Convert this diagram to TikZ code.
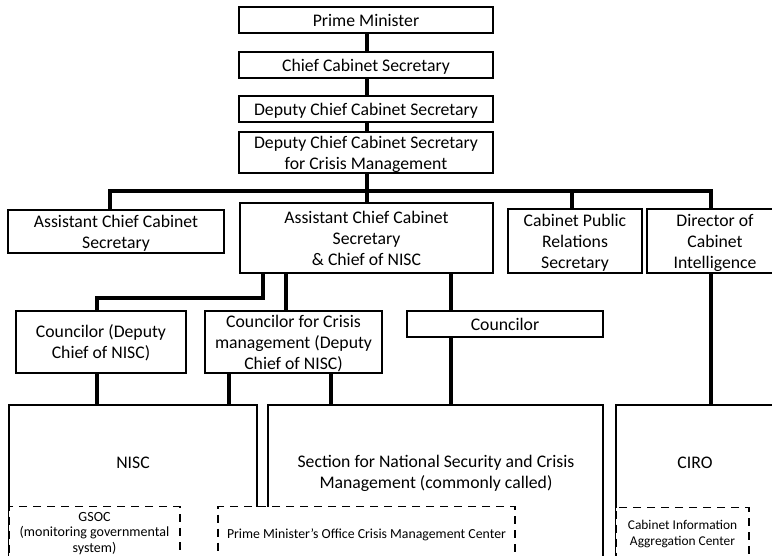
\documentclass[tikz,border=0pt]{standalone}
\usepackage{fontspec}
\setmainfont{Carlito}
\begin{document}
\begin{tikzpicture}[x=1pt,y=-1pt,
  box/.style={draw, line width=1.5pt, fill=white, inner sep=0pt, align=center,
    text depth=-1.5pt, font=\fontsize{17.7}{21}\selectfont},
  dbox/.style={draw, dash pattern=on 8pt off 6pt, line width=1.8pt, fill=white,
    inner sep=0pt, align=center, font=\fontsize{13.8}{15.5}\selectfont},
  lbl/.style={inner sep=0pt, align=center, font=\fontsize{17.7}{21}\selectfont},
  conn/.style={line width=4pt}]
\useasboundingbox (0,0) rectangle (772,555);
\clip (0,0) rectangle (772,555);

% top chain
\node[box, minimum width=254pt, minimum height=26pt] (pm) at (366,20) {Prime Minister};
\node[box, minimum width=254pt, minimum height=26pt] (ccs) at (366,65) {Chief Cabinet Secretary};
\node[box, minimum width=254pt, minimum height=26pt] (dccs) at (366,109) {Deputy Chief Cabinet Secretary};
\node[box, minimum width=254pt, minimum height=41pt] (dccm) at (366,152.5) {Deputy Chief Cabinet Secretary\\for Crisis Management};

% second row
\node[box, minimum width=216pt, minimum height=43pt] (acc) at (116,231.5) {Assistant Chief Cabinet\\Secretary};
\node[box, minimum width=253pt, minimum height=70pt] (acn) at (366.5,238) {Assistant Chief Cabinet\\Secretary\\\& Chief of NISC};
\node[box, minimum width=134pt, minimum height=64pt] (cprs) at (575,241) {Cabinet Public\\Relations\\Secretary};
\node[box, minimum width=136pt, minimum height=64pt] (dci) at (715,241) {Director of\\Cabinet\\Intelligence};

% third row
\node[box, minimum width=170pt, minimum height=62pt] (cdn) at (101,342) {Councilor (Deputy\\Chief of NISC)};
\node[box, minimum width=177pt, minimum height=62pt] (ccm) at (293.5,342) {Councilor for Crisis\\management (Deputy\\Chief of NISC)};
\node[box, minimum width=196pt, minimum height=26pt] (cou) at (505,324) {Councilor};

% bottom organisations
\node[box, minimum width=248pt, minimum height=170pt] (nisc) at (133,490) {};
\node[box, minimum width=335pt, minimum height=170pt] (sec) at (435.5,490) {};
\node[box, minimum width=160pt, minimum height=170pt] (ciro) at (696,490) {};
\node[lbl] (nisct) at (133,463) {NISC};
\node[lbl] (sect) at (436,473) {Section for National Security and Crisis\\Management (commonly called)};
\node[lbl] (cirot) at (695,463) {CIRO};

% dashed centres
\node[dbox, minimum width=171pt, minimum height=54pt, font=\fontsize{14}{15.5}\selectfont] (gsoc) at (94.5,533.5) {GSOC\\(monitoring governmental\\system)};
\node[dbox, minimum width=297pt, minimum height=56pt] (pmo) at (366.5,534.5) {Prime Minister’s Office Crisis Management Center};
\node[dbox, minimum width=133pt, minimum height=53pt, font=\fontsize{13.4}{15.5}\selectfont] (cia) at (682.5,534) {Cabinet Information\\Aggregation Center};

% connectors
\coordinate (barL) at (110,191);
\coordinate (barM) at (367,191);
\coordinate (barC) at (572,191);
\coordinate (barR) at (711,191);
\draw[conn] (pm.south -| barM) -- (ccs.north -| barM);
\draw[conn] (ccs.south -| barM) -- (dccs.north -| barM);
\draw[conn] (dccs.south -| barM) -- (dccm.north -| barM);
\draw[conn] (dccm.south -| barM) -- (acn.north -| barM);
\draw[conn] (barL |- acc.north) -- (barL) -- (barR) -- (barR |- dci.north);
\draw[conn] (barC) -- (barC |- cprs.north);

\coordinate (k1) at (263,298);
\draw[conn] (acn.south -| k1) -- (k1) -| ([xshift=82pt]cdn.north west);
\draw[conn] ([xshift=82pt]cdn.south west) -- ([xshift=82pt]cdn.south west |- nisc.north);
\draw[conn] ([xshift=82pt]ccm.north west |- acn.south) -- ([xshift=82pt]ccm.north west);
\draw[conn] ([xshift=25pt]ccm.south west) -- ([xshift=25pt]ccm.south west |- nisc.north);
\draw[conn] ([xshift=127pt]ccm.south west) -- ([xshift=127pt]ccm.south west |- sec.north);
\draw[conn] ([xshift=45pt]cou.north west |- acn.south) -- ([xshift=45pt]cou.north west);
\draw[conn] ([xshift=45pt]cou.south west) -- ([xshift=45pt]cou.south west |- sec.north);
\draw[conn] (dci.south -| barR) -- (ciro.north -| barR);
\end{tikzpicture}
\end{document}
